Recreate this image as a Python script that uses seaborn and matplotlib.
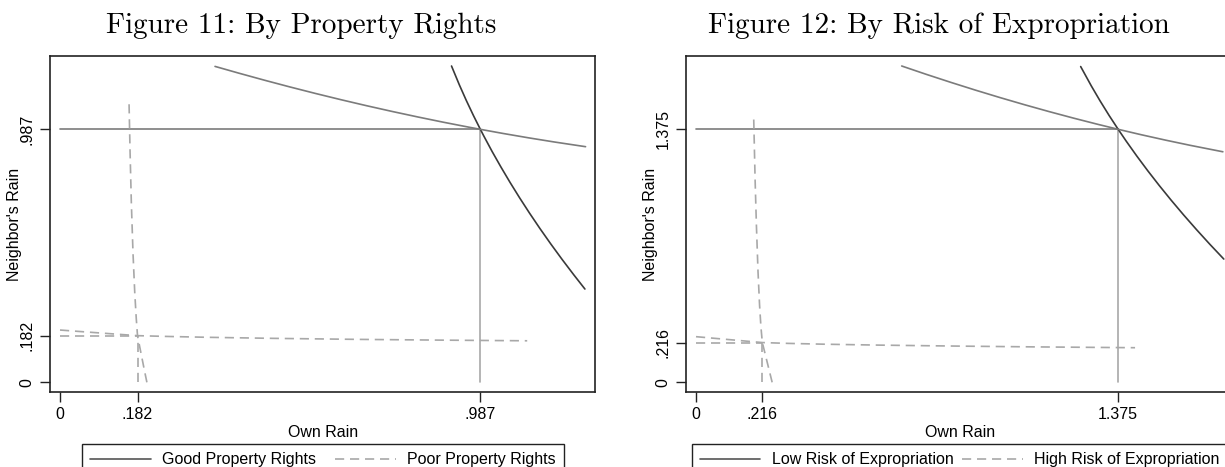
import matplotlib
matplotlib.use("Agg")
import matplotlib.pyplot as plt
from matplotlib.lines import Line2D
import pandas as pd
import seaborn as sns

# equilibrium rain levels (tick positions)
good_eq = 0.987
poor_eq = 0.182
low_eq = 1.375
high_eq = 0.216

# best response curves (own rain, neighbor's rain)
good_x = [0.364, 0.42, 0.48, 0.54, 0.60, 0.66, 0.72, 0.78, 0.84, 0.90, 0.96,
          0.987, 1.04, 1.10, 1.16, 1.234]
good_y = [1.2325, 1.2061, 1.1787, 1.1523, 1.1269, 1.1025, 1.0791, 1.0567,
          1.0353, 1.0148, 0.9954, 0.987, 0.971, 0.9539, 0.9378, 0.9193]
poor_x = [0.0, 0.04, 0.09, 0.14, 0.182, 0.25, 0.35, 0.50, 0.70, 0.90, 1.097]
poor_y = [0.204, 0.199, 0.193, 0.187, 0.182, 0.179, 0.1755, 0.1715, 0.1675,
          0.1645, 0.162]

low_x = [0.670, 0.75, 0.83, 0.91, 0.99, 1.07, 1.15, 1.23, 1.31, 1.375, 1.45,
         1.53, 1.61, 1.716]
low_y = [1.719, 1.6737, 1.6301, 1.588, 1.5475, 1.5086, 1.4713, 1.4356, 1.4015,
         1.375, 1.3456, 1.3159, 1.2878, 1.2529]
high_x = [0.0, 0.05, 0.10, 0.16, 0.216, 0.30, 0.42, 0.60, 0.85, 1.10, 1.430]
high_y = [0.248, 0.2406, 0.2332, 0.2243, 0.216, 0.2115, 0.207, 0.202, 0.1968,
          0.1925, 0.188]

panels = [
    {
        "title": "Figure 11: By Property Rights",
        "labels": ["Good Property Rights", "Poor Property Rights"],
        "solid": (good_x, good_y, good_eq),
        "dashed": (poor_x, poor_y, poor_eq),
        "ticks": [0, poor_eq, good_eq],
        "ticklabels": ["0", ".182", ".987"],
        "xlim": (-0.0235, 1.2569),
        "ylim": (-0.0378, 1.2731),
    },
    {
        "title": "Figure 12: By Risk of Expropriation",
        "labels": ["Low Risk of Expropriation", "High Risk of Expropriation"],
        "solid": (low_x, low_y, low_eq),
        "dashed": (high_x, high_y, high_eq),
        "ticks": [0, high_eq, low_eq],
        "ticklabels": ["0", ".216", "1.375"],
        "xlim": (-0.0326, 1.751),
        "ylim": (-0.0527, 1.7734),
    },
]

# layout in pixels of the 1225x467 picture
W, H = 1225, 467
axes_px = [(50, 56, 545.3, 336), (686, 56, 547.6, 336)]
title_px = [(301, 32.7), (939, 32.7)]
legend_px = [(82, 444.3, 481.7), (691.7, 444.3, 536)]

dark = "#3a3a3a"
mid = "#7b7b7b"
light = "#a8a8a8"
dash = (0, (5.5, 3.5))
fs = 11.5

sns.set_style("ticks")
plt.rcParams["font.family"] = ["Liberation Sans", "DejaVu Sans"]
plt.rcParams["text.color"] = "black"
plt.rcParams["axes.labelcolor"] = "black"
plt.rcParams["xtick.color"] = "black"
plt.rcParams["ytick.color"] = "black"


def line(ax, xs, ys, color, ls="-"):
    df = pd.DataFrame({"x": xs, "y": ys})
    sns.lineplot(data=df, x="x", y="y", ax=ax, color=color, linewidth=1.2,
                 linestyle=ls, estimator=None, sort=False)


fig = plt.figure(figsize=(W / 100, H / 100), dpi=100)

for p, (l, t, w, h), (tx, ty), (lx, ly, lw) in zip(panels, axes_px, title_px, legend_px):
    ax = fig.add_axes([l / W, 1 - (t + h) / H, w / W, h / H])

    sx, sy, seq = p["solid"]
    dx, dy, deq = p["dashed"]

    # reference lines at the equilibria
    line(ax, [0, seq], [seq, seq], mid)
    line(ax, [seq, seq], [0, seq], light)
    line(ax, [0, deq], [deq, deq], light, dash)
    line(ax, [deq, deq], [0, deq], light, dash)

    # own best response and neighbor's (mirror image)
    line(ax, sy, sx, dark)
    line(ax, sx, sy, mid)
    line(ax, dy, dx, light, dash)
    line(ax, dx, dy, light, dash)

    ax.set_xlim(*p["xlim"])
    ax.set_ylim(*p["ylim"])
    ax.set_xticks(p["ticks"])
    ax.set_xticklabels(p["ticklabels"])
    ax.set_yticks(p["ticks"])
    ax.set_yticklabels(p["ticklabels"], rotation=90, va="center")
    ax.tick_params(length=7, width=1, color="#222222", pad=4, labelsize=fs)

    for s in ax.spines.values():
        s.set_visible(True)
        s.set_color("#222222")
        s.set_linewidth(1.2)

    ax.set_xlabel("Own Rain", fontsize=fs, labelpad=2)
    ax.set_ylabel("Neighbor's Rain", fontsize=fs)
    ax.yaxis.set_label_coords(-28 / w, 0.5)

    fig.text(tx / W, 1 - ty / H, p["title"], family="cmr10", fontsize=21,
             ha="center", va="baseline")

    handles = [Line2D([], [], color="#555555", lw=1.2),
               Line2D([], [], color=light, lw=1.2, linestyle=dash)]
    leg = ax.legend(handles, p["labels"], loc="upper left", ncol=2,
                    mode="expand", bbox_to_anchor=(lx / W, 1 - ly / H - 0.2, lw / W, 0.2),
                    bbox_transform=fig.transFigure, borderaxespad=0,
                    fontsize=fs, handlelength=3.8, handletextpad=0.7,
                    borderpad=0.5, frameon=True, fancybox=False,
                    edgecolor="#222222", framealpha=1)
    leg.get_frame().set_linewidth(1.0)

fig.savefig("out.png", dpi=100)
